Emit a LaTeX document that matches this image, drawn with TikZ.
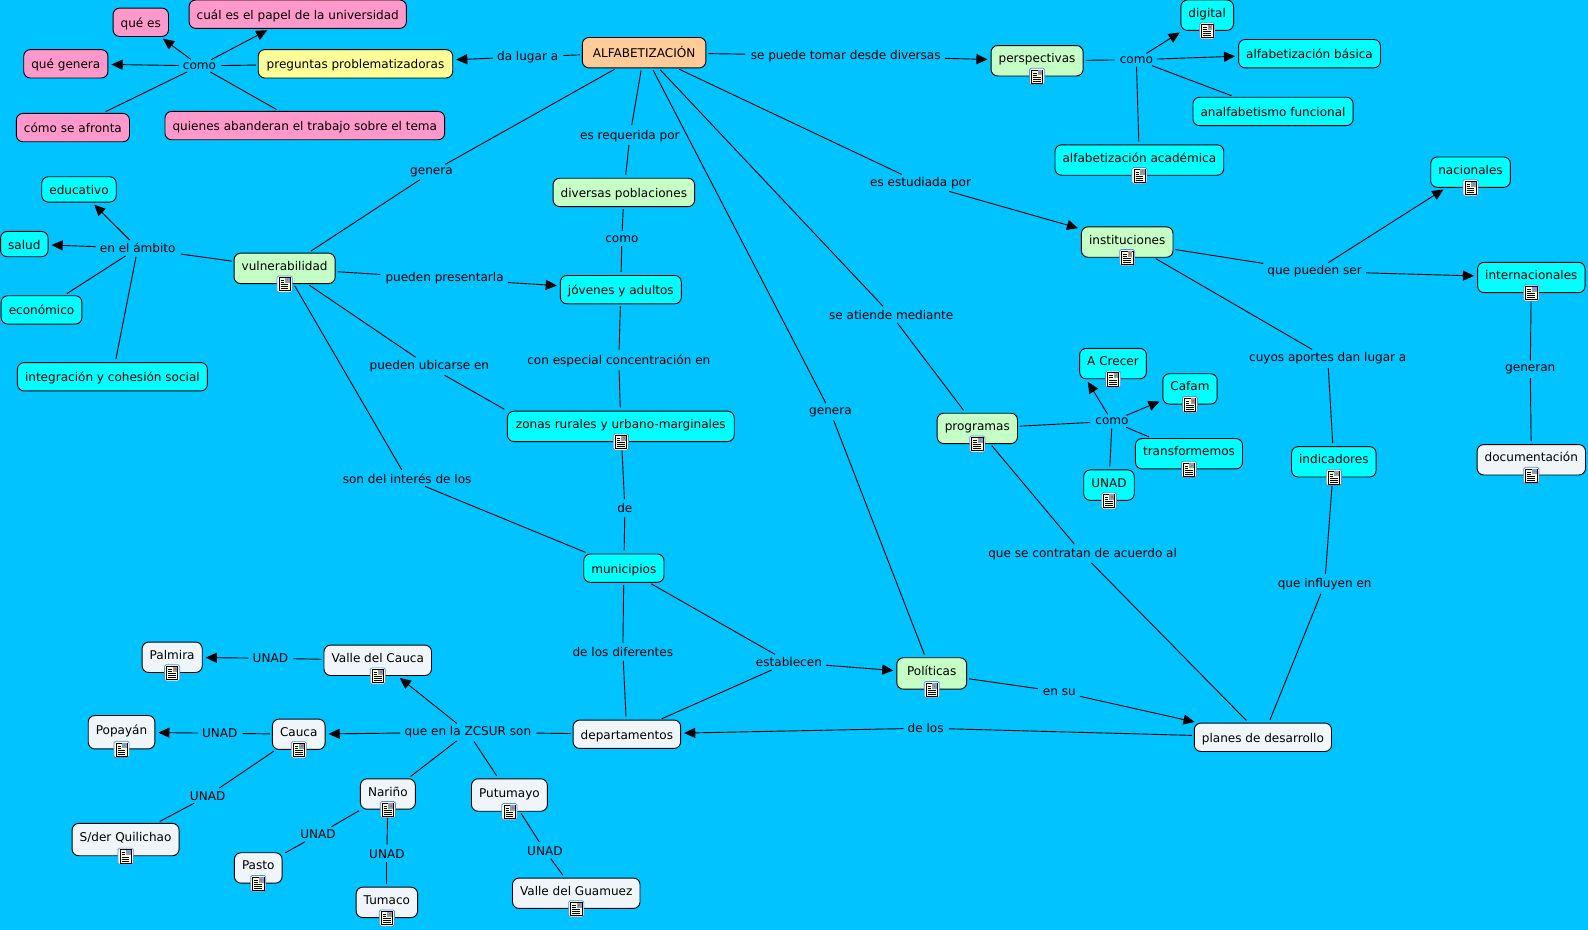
\documentclass[tikz,border=0pt]{standalone}
\usepackage{fontspec}
\setmainfont{DejaVu Sans}
\usetikzlibrary{arrows.meta}

\definecolor{mapblue}{HTML}{00C3FF}
\definecolor{mapcyan}{HTML}{00FFFF}
\definecolor{mapgreen}{HTML}{C6FFC6}
\definecolor{mappink}{HTML}{FF99CC}
\definecolor{mapyellow}{HTML}{FFFF99}
\definecolor{maporange}{HTML}{FFCC99}
\definecolor{mapwhite}{HTML}{EFF5F8}
\definecolor{mappaper}{HTML}{FFFBD0}
\definecolor{mapframe}{HTML}{4F8FE0}
\definecolor{mapphoto}{HTML}{7FA0C8}

\tikzset{
    concept/.style={draw, line width=0.9pt, rounded corners=6.5pt, inner xsep=7.5pt, inner ysep=0pt,
        font=\fontsize{11.9}{13}\selectfont, text height=10.5pt, text depth=0.5pt, minimum height=28pt},
    docbox/.style={concept, text depth=6.5pt, text height=10.5pt, minimum height=30pt},
    linklabel/.style={inner xsep=2pt, inner ysep=1.5pt, yshift=-1pt, font=\fontsize{11.9}{13}\selectfont},
    link/.style={line width=0.9pt, shorten >=3pt, shorten <=2pt},
    arrowlink/.style={link, -{Triangle[length=11pt, width=10pt]}},
    docicon/.pic={
        \fill[white, draw=mapframe, line width=0.7pt, rounded corners=1.5pt] (-7.5pt,-8pt) rectangle (7.5pt,8pt);
        \fill[mappaper, draw=black, line width=0.5pt] (-5.5pt,-6.5pt) rectangle (5.5pt,6.5pt);
        \fill[mapphoto] (0.5pt,1pt) rectangle (5.2pt,6.2pt);
        \fill[orange!70!red] (2.2pt,3pt) rectangle (3.7pt,4.5pt);
        \foreach \ly in {-4.5,-2.5,-0.5}
            \draw[black, line width=0.45pt] (-3.8pt,\ly pt) -- (3.8pt,\ly pt);
        \foreach \ly in {1.5,3.5}
            \draw[black, line width=0.45pt] (-3.8pt,\ly pt) -- (-0.5pt,\ly pt);
    }
}

\begin{document}
\begin{tikzpicture}[x=1pt, y=-1pt]

    % --- Background ---
    \fill[mapblue] (0,0) rectangle (1568,918);
    \useasboundingbox (0,0) rectangle (1568,918);

    % --- Top left: questions ---
    \node[concept, fill=maporange, minimum width=122pt, minimum height=30pt] (alfa) at (636,52) {ALFABETIZACIÓN};
    \node[concept, fill=mapyellow, minimum width=192pt] (preguntas) at (351,63) {preguntas problematizadoras};
    \node[concept, fill=mappink] (quees) at (139,22) {qué es};
    \node[concept, fill=mappink] (papel) at (294,14) {cuál es el papel de la universidad};
    \node[concept, fill=mappink] (quegenera) at (65,63) {qué genera};
    \node[concept, fill=mappink] (afronta) at (72,126) {cómo se afronta};
    \node[concept, fill=mappink] (quienes) at (301,124) {quienes abanderan el trabajo sobre el tema};
    \node[linklabel] (comoA) at (197,64) {como};
    \node[linklabel] (dalugar) at (521,55) {da lugar a};

    % --- Top right: perspectives ---
    \node[docbox, fill=mapgreen] (perspectivas) at (1024,60) {perspectivas};
    \node[docbox, fill=mapcyan] (digital) at (1192,15) {digital};
    \node[concept, fill=mapcyan] (basica) at (1293,53) {alfabetización básica};
    \node[concept, fill=mapcyan] (analfabetismo) at (1257,110) {analfabetismo funcional};
    \node[docbox, fill=mapcyan] (academica) at (1125,158) {alfabetización académica};
    \node[linklabel] (comoB) at (1122,58) {como};
    \node[linklabel] (sepuede) at (835,54) {se puede tomar desde diversas};

    % --- Institutions ---
    \node[linklabel] (estudiada) at (909,180) {es estudiada por};
    \node[docbox, fill=mapgreen] (instituciones) at (1113,239) {instituciones};
    \node[docbox, fill=mapcyan] (nacionales) at (1452,170) {nacionales};
    \node[docbox, fill=mapcyan] (internacionales) at (1512,274) {internacionales};
    \node[docbox, fill=mapwhite] (documentacion) at (1512,454) {documentación};
    \node[docbox, fill=mapcyan] (indicadores) at (1317,456) {indicadores};
    \node[linklabel] (pueden) at (1298,267) {que pueden ser};
    \node[linklabel] (generan) at (1511,364) {generan};
    \node[linklabel] (cuyos) at (1311,353) {cuyos aportes dan lugar a};
    \node[linklabel] (influyen) at (1308,576) {que influyen en};

    % --- Programs ---
    \node[linklabel] (atiende) at (880,310) {se atiende mediante};
    \node[docbox, fill=mapgreen] (programas) at (965,423) {programas};
    \node[docbox, fill=mapcyan] (acrecer) at (1099,359) {A Crecer};
    \node[docbox, fill=mapcyan] (cafam) at (1175,384) {Cafam};
    \node[docbox, fill=mapcyan] (transformemos) at (1174,448) {transformemos};
    \node[docbox, fill=mapcyan] (unadprog) at (1095,479) {UNAD};
    \node[linklabel] (comoC) at (1098,415) {como};
    \node[linklabel] (contratan) at (1069,546) {que se contratan de acuerdo al};

    % --- Policies and plans ---
    \node[linklabel] (generaB) at (820,406) {genera};
    \node[docbox, fill=mapgreen, minimum width=69pt, minimum height=31pt] (politicas) at (920,665) {Políticas};
    \node[concept, fill=mapwhite] (planes) at (1247,728) {planes de desarrollo};
    \node[concept, fill=mapwhite] (departamentos) at (619,725) {departamentos};
    \node[linklabel] (ensu) at (1046,682) {en su};
    \node[linklabel] (delos) at (914,718) {de los};
    \node[linklabel] (establecen) at (779,653) {establecen};

    % --- Centre column ---
    \node[linklabel] (requerida) at (622,133) {es requerida por};
    \node[concept, fill=mapgreen] (poblaciones) at (616,190) {diversas poblaciones};
    \node[linklabel] (comoD) at (614,235) {como};
    \node[concept, fill=mapcyan] (jovenes) at (613,286) {jóvenes y adultos};
    \node[linklabel] (concentracion) at (611,355) {con especial concentración en};
    \node[docbox, fill=mapcyan, minimum width=224pt] (zonas) at (613,421) {zonas rurales y urbano-marginales};
    \node[linklabel] (de) at (617,501) {de};
    \node[concept, fill=mapcyan] (municipios) at (616,561) {municipios};
    \node[linklabel] (diferentes) at (615,643) {de los diferentes};

    % --- Vulnerability ---
    \node[linklabel] (generaA) at (426,169) {genera};
    \node[docbox, fill=mapgreen] (vulnerabilidad) at (281,265) {vulnerabilidad};
    \node[linklabel] (presentarla) at (439,274) {pueden presentarla};
    \node[linklabel] (ubicarse) at (424,361) {pueden ubicarse en};
    \node[linklabel] (interes) at (402,472) {son del interés de los};
    \node[linklabel] (ambito) at (136,244) {en el ámbito};
    \node[concept, fill=mapcyan, minimum height=25pt] (educativo) at (78,187) {educativo};
    \node[concept, fill=mapcyan, minimum height=25pt] (salud) at (24,241) {salud};
    \node[concept, fill=mapcyan] (economico) at (41,306) {económico};
    \node[concept, fill=mapcyan] (integracion) at (111,372) {integración y cohesión social};

    % --- Bottom left: departments ---
    \node[linklabel] (zcsur) at (462,722) {que en la ZCSUR son};
    \node[docbox, fill=mapwhite] (vallecauca) at (373,652) {Valle del Cauca};
    \node[docbox, fill=mapwhite] (palmira) at (170,649) {Palmira};
    \node[docbox, fill=mapwhite] (cauca) at (295,725) {Cauca};
    \node[docbox, fill=mapwhite, minimum height=33pt] (popayan) at (120,723) {Popayán};
    \node[docbox, fill=mapwhite, minimum height=32pt] (quilichao) at (124,829) {S/der Quilichao};
    \node[docbox, fill=mapwhite] (narino) at (383,784) {Nariño};
    \node[docbox, fill=mapwhite, minimum height=32pt] (putumayo) at (503,785) {Putumayo};
    \node[docbox, fill=mapwhite] (pasto) at (255,857) {Pasto};
    \node[docbox, fill=mapwhite] (tumaco) at (382,891) {Tumaco};
    \node[docbox, fill=mapwhite] (guamuez) at (569,882) {Valle del Guamuez};
    \node[linklabel] (unadA) at (267,649) {UNAD};
    \node[linklabel] (unadB) at (217,723) {UNAD};
    \node[linklabel] (unadC) at (205,785) {UNAD};
    \node[linklabel] (unadD) at (314,823) {UNAD};
    \node[linklabel] (unadE) at (382,842) {UNAD};
    \node[linklabel] (unadF) at (538,839) {UNAD};

    % --- Plain connectors ---
    \foreach \src/\dst in {
        alfa/dalugar, preguntas/comoA, comoA/afronta, comoA/quienes,
        alfa/sepuede, perspectivas/comoB, comoB/analfabetismo, comoB/academica,
        alfa/estudiada, instituciones/pueden, instituciones/cuyos, cuyos/indicadores,
        indicadores/influyen, influyen/planes, internacionales/generan, generan/documentacion,
        alfa/atiende, atiende/programas, programas/comoC, comoC/transformemos, comoC/unadprog,
        programas/contratan, contratan/planes, alfa/generaB, generaB/politicas,
        politicas/ensu, planes/delos, municipios/establecen, departamentos/establecen,
        municipios/diferentes, diferentes/departamentos, zonas/de, de/municipios,
        vulnerabilidad/interes, interes/municipios, vulnerabilidad/ubicarse,
        vulnerabilidad/presentarla, jovenes/concentracion, concentracion/zonas,
        poblaciones/comoD, comoD/jovenes, alfa/requerida, requerida/poblaciones,
        alfa/generaA, generaA/vulnerabilidad, vulnerabilidad/ambito,
        ambito/economico, ambito/integracion, departamentos/zcsur, zcsur/narino, zcsur/putumayo,
        vallecauca/unadA, cauca/unadB, cauca/unadC, unadC/quilichao, narino/unadD, unadD/pasto,
        narino/unadE, unadE/tumaco, putumayo/unadF, unadF/guamuez}
        \draw[link] (\src) -- (\dst);
    \draw[link] (ubicarse) -- (zonas.north west);

    % --- Connectors with arrow tips ---
    \foreach \src/\dst in {
        dalugar/preguntas, comoA/quees, comoA/papel, comoA/quegenera,
        sepuede/perspectivas, comoB/digital, comoB/basica, estudiada/instituciones,
        pueden/nacionales, pueden/internacionales, comoC/cafam,
        ensu/planes, delos/departamentos, establecen/politicas, presentarla/jovenes,
        ambito/educativo, ambito/salud, zcsur/vallecauca, zcsur/cauca, unadA/palmira, unadB/popayan}
        \draw[arrowlink] (\src) -- (\dst);
    \draw[arrowlink] (comoC) -- ([xshift=7pt]acrecer.south west);

    % --- Document icons ---
    \foreach \cname in {perspectivas, digital, academica, instituciones, nacionales, internacionales,
        documentacion, indicadores, programas, acrecer, cafam, transformemos, unadprog, politicas,
        zonas, vulnerabilidad, vallecauca, palmira, cauca, popayan, quilichao, narino, putumayo,
        pasto, tumaco, guamuez}
        \pic at (\cname.south) {docicon};

\end{tikzpicture}
\end{document}
